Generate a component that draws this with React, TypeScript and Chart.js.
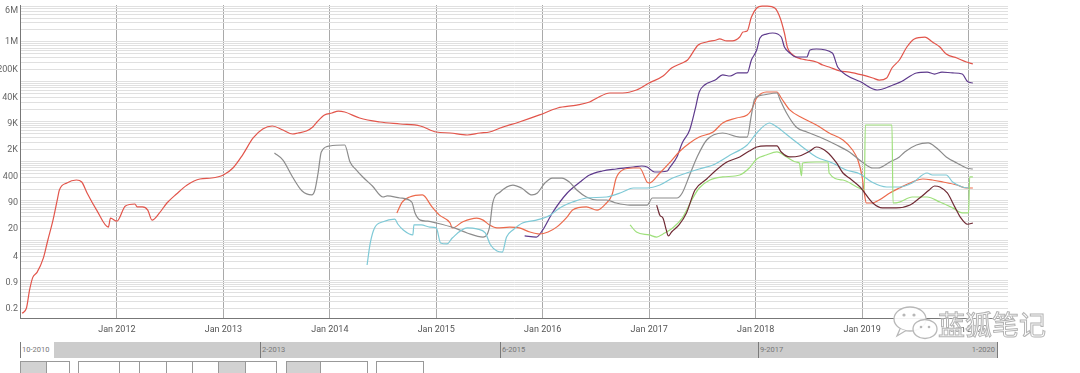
import React, { useEffect, useRef } from 'react';
import { Chart, registerables } from 'chart.js';

Chart.register(...registerables);

// ---------- data (x = decimal year, y = value on log axis) ----------
const redYears = [2011.11, 2011.15, 2011.18, 2011.21, 2011.25, 2011.31, 2011.35, 2011.40, 2011.44, 2011.46, 2011.53, 2011.62, 2011.67, 2011.72, 2011.81, 2011.92, 2011.94, 2012.00, 2012.08, 2012.17, 2012.19, 2012.24, 2012.29, 2012.33, 2012.40, 2012.47, 2012.56, 2012.66, 2012.78, 2012.89, 2013.00, 2013.09, 2013.18, 2013.28, 2013.37, 2013.46, 2013.56, 2013.65, 2013.70, 2013.78, 2013.84, 2013.88, 2013.95, 2014.02, 2014.08, 2014.14, 2014.28, 2014.47, 2014.66, 2014.85, 2015.00, 2015.13, 2015.29, 2015.41, 2015.50, 2015.60, 2015.78, 2015.97, 2016.14, 2016.32, 2016.44, 2016.51, 2016.63, 2016.75, 2016.88, 2017.00, 2017.13, 2017.21, 2017.31, 2017.36, 2017.46, 2017.54, 2017.63, 2017.66, 2017.73, 2017.78, 2017.85, 2017.88, 2017.92, 2017.96, 2018.01, 2018.06, 2018.11, 2018.18, 2018.23, 2018.27, 2018.30, 2018.35, 2018.43, 2018.48, 2018.57, 2018.63, 2018.69, 2018.79, 2018.88, 2019.00, 2019.10, 2019.16, 2019.23, 2019.28, 2019.35, 2019.42, 2019.49, 2019.59, 2019.66, 2019.73, 2019.79, 2019.89, 2019.98, 2020.04];
const redValues = [0.15, 0.2, 0.58, 1.2, 1.6, 3.7, 10, 33, 106, 189, 284, 337, 300, 159, 59, 22, 37, 31, 75, 84, 71, 71, 59, 33, 50, 89, 150, 252, 357, 378, 451, 675, 1430, 3840, 6470, 7690, 6110, 4840, 5130, 5760, 7260, 9700, 14600, 16300, 18300, 17300, 12200, 9700, 8630, 7690, 5430, 5130, 4570, 5130, 5430, 6850, 9700, 14600, 21800, 25900, 30900, 38900, 52000, 52000, 61900, 92900, 139000, 221000, 296000, 352000, 838000, 998000, 1120000, 1190000, 1060000, 1060000, 1330000, 1780000, 1880000, 4240000, 7140000, 8000000, 8000000, 7140000, 4000000, 1680000, 705000, 470000, 372000, 352000, 313000, 263000, 234000, 186000, 175000, 148000, 124000, 110000, 124000, 221000, 352000, 746000, 1190000, 1330000, 998000, 746000, 498000, 394000, 313000, 279000];

const purpleYears = [2015.83, 2015.94, 2016.00, 2016.09, 2016.23, 2016.35, 2016.44, 2016.56, 2016.69, 2016.85, 2016.93, 2016.98, 2017.05, 2017.17, 2017.19, 2017.26, 2017.31, 2017.38, 2017.43, 2017.47, 2017.52, 2017.62, 2017.69, 2017.76, 2017.83, 2017.92, 2017.96, 2018.01, 2018.04, 2018.10, 2018.16, 2018.24, 2018.27, 2018.32, 2018.38, 2018.48, 2018.51, 2018.57, 2018.72, 2018.77, 2018.85, 2018.98, 2019.14, 2019.29, 2019.37, 2019.51, 2019.61, 2019.68, 2019.75, 2019.85, 2019.94, 2019.99, 2020.04];
const purpleValues = [13.2, 12.4, 18.7, 50, 159, 300, 451, 568, 638, 716, 759, 716, 536, 568, 676, 1280, 2880, 6110, 19500, 55100, 82600, 110000, 148000, 139000, 166000, 166000, 352000, 628000, 1260000, 1580000, 1680000, 1330000, 746000, 527000, 418000, 418000, 628000, 665000, 527000, 234000, 148000, 101000, 61900, 82600, 101000, 166000, 175000, 156000, 175000, 166000, 156000, 101000, 92900];

const grayYears = [2013.48, 2013.56, 2013.65, 2013.74, 2013.83, 2013.86, 2013.89, 2013.92, 2014.00, 2014.14, 2014.19, 2014.25, 2014.31, 2014.40, 2014.50, 2014.54, 2014.66, 2014.77, 2014.80, 2014.85, 2014.92, 2015.00, 2015.17, 2015.29, 2015.44, 2015.50, 2015.53, 2015.60, 2015.72, 2015.80, 2015.90, 2015.95, 2016.02, 2016.09, 2016.18, 2016.25, 2016.32, 2016.41, 2016.51, 2016.60, 2016.69, 2016.82, 2016.98, 2017.03, 2017.26, 2017.31, 2017.38, 2017.45, 2017.54, 2017.69, 2017.85, 2017.92, 2017.96, 2017.99, 2018.07, 2018.20, 2018.23, 2018.29, 2018.38, 2018.48, 2018.60, 2018.76, 2018.88, 2019.00, 2019.10, 2019.15, 2019.26, 2019.35, 2019.40, 2019.51, 2019.62, 2019.70, 2019.79, 2019.89, 2019.98, 2020.04];
const grayValues = [1610, 1070, 402, 178, 142, 189, 506, 1710, 2420, 2560, 957, 601, 402, 238, 126, 134, 119, 94, 50, 33, 31, 28, 21, 15.7, 12.4, 22, 89, 168, 252, 212, 142, 159, 284, 378, 378, 300, 189, 126, 106, 106, 89, 79, 79, 119, 119, 159, 451, 1280, 3420, 5130, 4060, 4060, 14600, 36700, 46300, 52000, 34700, 16300, 7260, 5430, 4060, 2560, 1710, 957, 676, 676, 957, 1280, 1710, 2560, 2880, 2150, 1280, 904, 676, 638];

const cyanYears = [2014.35, 2014.38, 2014.42, 2014.50, 2014.61, 2014.64, 2014.69, 2014.78, 2014.79, 2014.86, 2014.94, 2015.00, 2015.04, 2015.10, 2015.15, 2015.29, 2015.38, 2015.46, 2015.51, 2015.57, 2015.62, 2015.66, 2015.72, 2015.81, 2015.94, 2016.07, 2016.16, 2016.28, 2016.41, 2016.60, 2016.75, 2016.85, 2016.98, 2017.10, 2017.22, 2017.35, 2017.47, 2017.60, 2017.76, 2017.92, 2018.01, 2018.13, 2018.20, 2018.32, 2018.44, 2018.57, 2018.72, 2018.85, 2018.98, 2019.09, 2019.23, 2019.35, 2019.47, 2019.61, 2019.66, 2019.79, 2019.85, 2019.94, 2020.01];
const cyanValues = [2.45, 8.8, 21, 30, 35, 26, 18.7, 14, 25, 25, 22, 21, 8.8, 8.3, 11.7, 21, 19.8, 15.7, 7.8, 5.5, 5.2, 12.4, 18.7, 28, 33, 44, 67, 94, 119, 126, 168, 212, 212, 252, 378, 506, 638, 804, 1430, 2560, 5130, 9160, 7260, 4060, 2280, 1280, 904, 601, 478, 300, 225, 225, 284, 506, 451, 451, 300, 225, 212];

const orangeYears = [2014.63, 2014.68, 2014.75, 2014.87, 2014.96, 2015.03, 2015.13, 2015.15, 2015.25, 2015.38, 2015.44, 2015.50, 2015.57, 2015.69, 2015.78, 2015.88, 2015.97, 2016.05, 2016.13, 2016.23, 2016.28, 2016.41, 2016.51, 2016.58, 2016.65, 2016.69, 2016.75, 2016.85, 2016.91, 2016.98, 2017.00, 2017.10, 2017.19, 2017.28, 2017.38, 2017.47, 2017.60, 2017.69, 2017.82, 2017.92, 2017.96, 2018.01, 2018.10, 2018.20, 2018.24, 2018.32, 2018.44, 2018.57, 2018.69, 2018.82, 2018.91, 2018.96, 2019.00, 2019.02, 2019.04, 2019.09, 2019.16, 2019.26, 2019.35, 2019.45, 2019.57, 2019.66, 2019.76, 2019.89, 2019.98, 2020.04];
const orangeValues = [50, 94, 126, 142, 71, 44, 28, 21, 30, 37, 33, 25, 21, 22, 21, 16.6, 14.8, 16.6, 22, 40, 59, 71, 59, 79, 142, 378, 601, 676, 676, 300, 284, 506, 904, 1710, 2880, 4060, 5430, 9160, 12200, 14600, 19500, 38900, 55100, 55100, 38900, 19500, 12200, 8150, 5130, 3420, 1920, 1070, 402, 159, 89, 89, 106, 159, 212, 284, 357, 337, 300, 252, 212, 212];

const maroonYears = [2017.07, 2017.10, 2017.13, 2017.16, 2017.18, 2017.21, 2017.28, 2017.35, 2017.43, 2017.54, 2017.63, 2017.73, 2017.85, 2017.94, 2018.01, 2018.10, 2018.20, 2018.24, 2018.32, 2018.41, 2018.51, 2018.57, 2018.67, 2018.76, 2018.82, 2018.88, 2018.98, 2019.10, 2019.19, 2019.32, 2019.45, 2019.54, 2019.63, 2019.68, 2019.73, 2019.80, 2019.87, 2019.92, 2019.99, 2020.04];
const maroonValues = [79, 44, 37, 18.7, 13.2, 16.6, 25, 50, 189, 357, 601, 957, 1280, 1810, 2280, 2420, 2420, 1710, 1280, 1350, 1810, 2280, 1710, 904, 506, 378, 225, 89, 67, 67, 79, 119, 189, 238, 225, 159, 71, 40, 26, 28];

const greenYears = [2016.82, 2016.88, 2017.00, 2017.07, 2017.13, 2017.22, 2017.31, 2017.41, 2017.47, 2017.57, 2017.69, 2017.85, 2017.94, 2018.01, 2018.10, 2018.20, 2018.29, 2018.38, 2018.41, 2018.43, 2018.44, 2018.57, 2018.68, 2018.69, 2018.82, 2018.95, 2019.02, 2019.03, 2019.28, 2019.29, 2019.35, 2019.47, 2019.61, 2019.73, 2019.85, 2019.94, 2020.00, 2020.01, 2020.04];
const greenValues = [25, 16.6, 14, 12.4, 14.8, 21, 37, 119, 212, 337, 402, 451, 676, 1140, 1430, 1710, 1280, 957, 904, 426, 904, 957, 957, 506, 337, 225, 189, 8150, 8150, 89, 94, 126, 126, 94, 67, 50, 50, 402, 402];

// ---------- axes ----------
const X_MIN = 2011.09;
const X_MAX = 2020.37;
const Y_MIN = 0.114;
const Y_MAX = 8.5e6;
const xTickYears = [2012, 2013, 2014, 2015, 2016, 2017, 2018, 2019, 2020];
const xTickLabels = ['Jan 2012', 'Jan 2013', 'Jan 2014', 'Jan 2015', 'Jan 2016', 'Jan 2017', 'Jan 2018', 'Jan 2019', 'Jan 2020'];
const yTickValues = [0.2, 0.9, 4, 20, 90, 400, 2000, 9000, 40000, 200000, 1000000, 6000000];
const yTickLabels = ['0.2', '0.9', '4', '20', '90', '400', '2K', '9K', '40K', '200K', '1M', '6M'];

const navLabels = ['10-2010', '2-2013', '6-2015', '9-2017', '1-2020'];

const series = [
  { name: 'maroon', years: maroonYears, values: maroonValues, color: '#6f2a34' },
  { name: 'green', years: greenYears, values: greenValues, color: '#9fe07c' },
  { name: 'cyan', years: cyanYears, values: cyanValues, color: '#7ec9d6' },
  { name: 'gray', years: grayYears, values: grayValues, color: '#8c8c8c' },
  { name: 'orange', years: orangeYears, values: orangeValues, color: '#ec6a4c' },
  { name: 'purple', years: purpleYears, values: purpleValues, color: '#5e3a8c' },
  { name: 'red', years: redYears, values: redValues, color: '#e2554b' },
];

function zip(xs: number[], ys: number[]) {
  const n = Math.min(xs.length, ys.length);
  const out: { x: number; y: number }[] = [];
  for (let i = 0; i < n; i++) out.push({ x: xs[i], y: ys[i] });
  return out;
}

function gridValues(): number[] {
  const out: number[] = [];
  for (let e = -1; e <= 6; e++) {
    for (let d = 1; d <= 9; d++) {
      const v = d * Math.pow(10, e);
      if (v >= Y_MIN && v <= Y_MAX) out.push(v);
    }
  }
  return out;
}

function yLabel(v: number): string {
  for (let i = 0; i < yTickValues.length; i++) {
    if (Math.abs(v - yTickValues[i]) / yTickValues[i] < 1e-6) return yTickLabels[i];
  }
  return '';
}

function xLabel(v: number): string {
  const i = xTickYears.indexOf(Math.round(v));
  return i >= 0 ? xTickLabels[i] : '';
}

const navDividers = [0, 240, 480, 738, 977];
const buttonGroups = [
  { edges: [20, 47, 70], selected: 0 },
  { edges: [78, 120, 140, 167, 193, 219, 246, 277], selected: 5 },
  { edges: [286, 321, 368], selected: 0 },
  { edges: [376, 424], selected: -1 },
];

export default function App() {
  const ref = useRef<HTMLCanvasElement>(null);

  useEffect(() => {
    document.body.style.margin = '0';
    const canvas = ref.current;
    if (!canvas) return;
    const chart = new Chart(canvas, {
      type: 'line',
      data: {
        datasets: series.map((s) => ({
          label: s.name,
          data: zip(s.years, s.values),
          borderColor: s.color,
          backgroundColor: s.color,
          borderWidth: 1.2,
          pointRadius: 0,
          pointHoverRadius: 0,
          fill: false,
          cubicInterpolationMode: 'monotone' as const,
        })),
      },
      options: {
        responsive: false,
        animation: false,
        devicePixelRatio: 1,
        parsing: false,
        layout: { padding: { left: 0, right: 72, top: 5, bottom: 0 } },
        plugins: { legend: { display: false }, tooltip: { enabled: false } },
        scales: {
          x: {
            type: 'linear',
            min: X_MIN,
            max: X_MAX,
            afterBuildTicks: (s: any) => {
              s.ticks = xTickYears.map((v) => ({ value: v }));
            },
            afterFit: (s: any) => {
              s.height = 22;
              s.paddingLeft = 0;
              s.paddingRight = 0;
            },
            ticks: {
              callback: (v: any) => xLabel(Number(v)),
              autoSkip: false,
              maxRotation: 0,
              padding: 6,
              color: '#555',
              font: { family: 'Roboto', size: 9 },
            },
            grid: { color: '#a9a9a9', drawTicks: false, lineWidth: 1 },
            border: { color: '#777' },
          },
          y: {
            type: 'logarithmic',
            min: Y_MIN,
            max: Y_MAX,
            afterBuildTicks: (s: any) => {
              s.ticks = gridValues().map((v) => ({ value: v }));
            },
            afterFit: (s: any) => {
              s.width = 20;
              s.paddingTop = 0;
              s.paddingBottom = 0;
            },
            ticks: {
              callback: (v: any) => yLabel(Number(v)),
              autoSkip: false,
              padding: 2,
              color: '#666',
              font: { family: 'Roboto', size: 9 },
            },
            grid: { color: '#e0e0e0', drawTicks: false, lineWidth: 1 },
            border: { color: '#777' },
          },
        },
      },
    } as any);
    return () => chart.destroy();
  }, []);

  return (
    <div style={{ position: 'relative', width: 1080, height: 373, overflow: 'hidden', background: '#fff', fontFamily: 'Roboto, sans-serif' }}>
      <canvas ref={ref} width={1080} height={340} style={{ position: 'absolute', left: 0, top: 0, width: 1080, height: 340 }} />

      {/* range navigator */}
      <div style={{ position: 'absolute', left: 20, top: 342, width: 978, height: 16 }}>
        <div style={{ position: 'absolute', left: 34, top: 0, width: 944, height: 16, background: '#cccccc' }} />
        {navDividers.map((d, i) => (
          <div key={'d' + i} style={{ position: 'absolute', left: d, top: 0, width: 1, height: 16, background: '#7a7a7a' }} />
        ))}
        {navLabels.map((t, i) => {
          const last = i === navLabels.length - 1;
          const style: React.CSSProperties = {
            position: 'absolute',
            top: 4,
            fontSize: 7.5,
            lineHeight: '8px',
            color: '#777',
            whiteSpace: 'nowrap',
          };
          if (last) style.right = 978 - navDividers[i] + 2;
          else style.left = navDividers[i] + 2;
          return (
            <div key={'l' + i} style={style}>
              {t}
            </div>
          );
        })}
      </div>

      {/* buttons (cut off at bottom) */}
      {buttonGroups.map((g, gi) =>
        g.edges.slice(0, -1).map((e, ci) => (
          <div
            key={gi + '-' + ci}
            style={{
              position: 'absolute',
              left: e,
              top: 361,
              width: g.edges[ci + 1] - e,
              height: 16,
              boxSizing: 'border-box',
              border: '1px solid #999',
              borderLeftWidth: ci === 0 ? 1 : 0,
              background: ci === g.selected ? '#d2d2d2' : '#fff',
            }}
          />
        ))
      )}

      {/* watermark */}
      <svg width={60} height={40} style={{ position: 'absolute', left: 888, top: 303 }}>
        <ellipse cx={22} cy={16} rx={16} ry={12} fill="rgba(255,255,255,0.9)" stroke="#b8b8b8" strokeWidth={1.3} />
        <path d="M12 26 L9 33 L18 27.5" fill="rgba(255,255,255,0.9)" stroke="#b8b8b8" strokeWidth={1.3} />
        <circle cx={16} cy={12} r={1.6} fill="#b8b8b8" />
        <circle cx={26} cy={12} r={1.6} fill="#b8b8b8" />
        <ellipse cx={37} cy={26} rx={12} ry={9.5} fill="rgba(255,255,255,0.9)" stroke="#b8b8b8" strokeWidth={1.3} />
        <circle cx={33} cy={24} r={1.3} fill="#b8b8b8" />
        <circle cx={41} cy={24} r={1.3} fill="#b8b8b8" />
      </svg>
      <div
        style={{
          position: 'absolute',
          left: 938,
          top: 307,
          fontSize: 27,
          lineHeight: '34px',
          fontFamily: '"Noto Sans CJK SC", sans-serif',
          color: '#ffffff',
          WebkitTextStroke: '1px #b3b3b3',
          textShadow: '0 0 2px #fff, 0 0 3px #fff',
          whiteSpace: 'nowrap',
        }}
      >
        蓝狐笔记
      </div>
    </div>
  );
}
